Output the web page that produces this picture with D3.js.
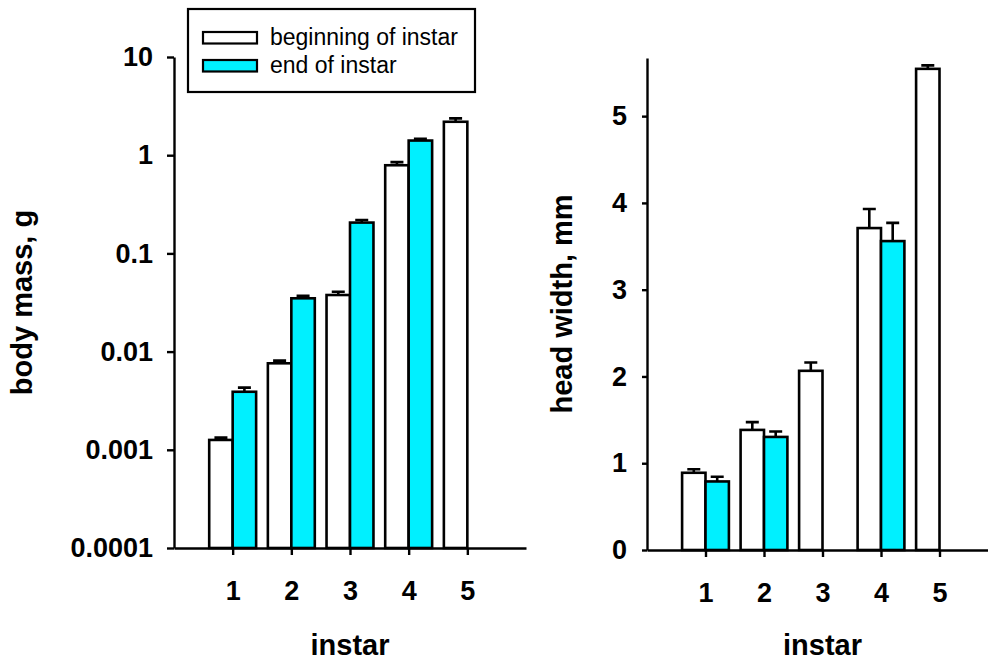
<!DOCTYPE html>
<html>
<head>
<meta charset="utf-8">
<script src="https://cdn.jsdelivr.net/npm/d3@7"></script>
<style>
  html, body { margin: 0; padding: 0; background: #fff; }
  svg { display: block; font-family: "Liberation Sans", Arial, sans-serif; }
</style>
</head>
<body>
<svg id="chart" width="988" height="660"></svg>
<script>
// Instars on the x axis
const instars = [1, 2, 3, 4, 5];

// Body mass (g), mean and standard error
const massBegin   = [0.00126, 0.0076, 0.0377, 0.79, 2.19];
const massBeginSE = [0.00007, 0.0005, 0.003, 0.06, 0.18];
const massEnd     = [0.0039, 0.0349, 0.206, 1.41, null];
const massEndSE   = [0.0004, 0.0022, 0.013, 0.06, null];

// Head width (mm), mean and standard error
const headBegin   = [0.89, 1.384, 2.065, 3.71, 5.545];
const headBeginSE = [0.04, 0.09, 0.095, 0.22, 0.04];
const headEnd     = [0.79, 1.303, null, 3.56, null];
const headEndSE   = [0.055, 0.062, null, 0.21, null];

// Tick labels
const massTicks = [0.0001, 0.001, 0.01, 0.1, 1, 10];
const massTickLabels = ["0.0001", "0.001", "0.01", "0.1", "1", "10"];
const headTicks = [0, 1, 2, 3, 4, 5];

const seriesNames = ["beginning of instar", "end of instar"];
const seriesFill = ["#ffffff", "#00f0ff"];

const svg = d3.select("#chart");
const BAR_W = 0.4;          // bar width in instar units
const CAP = 13;             // error bar cap width, px

function panel(cfg) {
  const g = svg.append("g");
  const x = d3.scaleLinear().domain([0, 6]).range(cfg.xRange);
  const y = cfg.y;

  // bars: "beginning" left of the tick, "end" right of it
  const series = [
    { vals: cfg.begin, se: cfg.beginSE, off: -BAR_W, fill: seriesFill[0] },
    { vals: cfg.end,   se: cfg.endSE,   off: 0,      fill: seriesFill[1] }
  ];
  const base = y.range()[0];
  series.forEach(s => {
    const pts = instars.map((d, i) => ({ inst: d, v: s.vals[i], se: s.se[i] }))
                       .filter(p => p.v != null);
    // error bars (upper half only)
    g.append("g").selectAll("path").data(pts).join("path")
      .attr("d", p => {
        const cx = (x(p.inst + s.off) + x(p.inst + s.off + BAR_W)) / 2;
        const y0 = y(p.v), y1 = y(p.v + p.se);
        return `M${cx},${y0}V${y1}M${cx - CAP / 2},${y1}H${cx + CAP / 2}`;
      })
      .attr("fill", "none").attr("stroke", "#000").attr("stroke-width", 2.6);
    g.append("g").selectAll("rect").data(pts).join("rect")
      .attr("x", p => x(p.inst + s.off))
      .attr("width", p => x(p.inst + s.off + BAR_W) - x(p.inst + s.off))
      .attr("y", p => y(p.v))
      .attr("height", p => base - y(p.v))
      .attr("fill", s.fill).attr("stroke", "#000").attr("stroke-width", 2.6);
  });

  // y axis
  const ya = g.append("g")
    .attr("transform", `translate(${cfg.xRange[0]},0)`)
    .call(d3.axisLeft(y).tickValues(cfg.ticks).tickFormat(cfg.fmt)
      .tickSize(cfg.yTick).tickSizeOuter(0).tickPadding(cfg.yPad));
  // x axis
  const xa = g.append("g")
    .attr("transform", `translate(0,${base})`)
    .call(d3.axisBottom(x).tickValues(instars).tickFormat(d3.format("d"))
      .tickSize(7).tickSizeOuter(0).tickPadding(26));
  [ya, xa].forEach(a => {
    a.select(".domain").attr("stroke-width", 2.4);
    a.selectAll(".tick line").attr("stroke-width", 2.4);
    a.selectAll(".tick text").attr("font-size", 27).attr("font-weight", "bold")
      .attr("fill", "#000");
  });
  xa.selectAll(".tick text").attr("dy", null).attr("y", 52);

  // axis titles
  g.append("text")
    .attr("transform", `translate(${cfg.yTitleX},${(y.range()[0] + y.range()[1]) / 2}) rotate(-90)`)
    .attr("text-anchor", "middle").attr("font-size", 29).attr("font-weight", "bold")
    .text(cfg.yTitle);
  g.append("text")
    .attr("x", (x(3) + x(3)) / 2).attr("y", 655)
    .attr("text-anchor", "middle").attr("font-size", 29).attr("font-weight", "bold")
    .text("instar");
  return g;
}

// left: body mass on a log scale
panel({
  xRange: [174, 526],
  y: d3.scaleLog().domain([0.0001, 10]).range([548, 57]),
  ticks: massTicks,
  fmt: (d, i) => massTickLabels[i],
  yTick: 7, yPad: 14,
  begin: massBegin, beginSE: massBeginSE, end: massEnd, endSE: massEndSE,
  yTitle: "body mass, g", yTitleX: 32
});

// right: head width on a linear scale
panel({
  xRange: [647, 998],
  y: d3.scaleLinear().domain([0, 5.67]).range([550, 58]),
  ticks: headTicks,
  fmt: d3.format("d"),
  yTick: 5, yPad: 15,
  begin: headBegin, beginSE: headBeginSE, end: headEnd, endSE: headEndSE,
  yTitle: "head width, mm", yTitleX: 572
});

// legend
const lg = svg.append("g");
lg.append("rect").attr("x", 188).attr("y", 9).attr("width", 287).attr("height", 83)
  .attr("fill", "#fff").attr("stroke", "#000").attr("stroke-width", 2.2);
seriesNames.forEach((name, i) => {
  const yy = 32 + i * 28;
  lg.append("rect").attr("x", 203).attr("y", yy).attr("width", 54).attr("height", 11.5)
    .attr("fill", seriesFill[i]).attr("stroke", "#000").attr("stroke-width", 2.2);
  lg.append("text").attr("x", 270).attr("y", yy + 12.5)
    .attr("font-size", 23).attr("fill", "#000").text(name);
});
</script>
</body>
</html>
